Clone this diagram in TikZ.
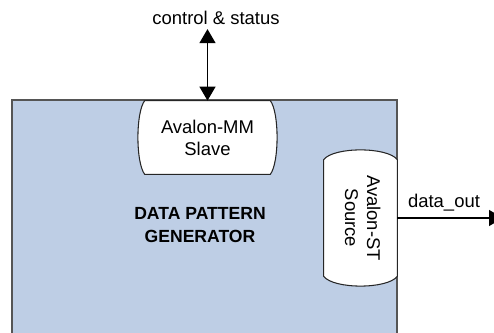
\documentclass[tikz,border=0pt]{standalone}
\usepackage{fontspec}
\setmainfont{Liberation Sans}
\usepackage{graphicx}
\usetikzlibrary{arrows.meta, backgrounds}

\definecolor{genblue}{RGB}{190,206,229}
\definecolor{edgegray}{RGB}{85,85,85}

\tikzset{
  port/.style={inner sep=0pt, align=center, font=\fontsize{10.5}{12.6}\selectfont},
  portline/.style={draw=black!85, fill=white, line width=0.6pt},
  sig/.style={line width=0.7pt, -{Triangle[length=0.28cm,width=0.32cm]}},
}

\begin{document}
\begin{tikzpicture}[x=0.02cm, y=-0.02cm]
    \useasboundingbox (0,0) rectangle (494,333);
    \clip (0,0) rectangle (494,333);

    % Generator block, runs past the lower edge
    \begin{scope}[on background layer]
      \draw[draw=edgegray, fill=genblue, line width=0.7pt] (12,100) rectangle (397,350);
    \end{scope}
    \node[port, font=\bfseries\fontsize{10}{13}\selectfont] (genlbl) at (200,225) {DATA PATTERN\\GENERATOR};

    % Ports
    \node[port, minimum width=2.5cm, minimum height=1.46cm] (mm) at (207.5,137.5) {Avalon-MM\\Slave};
    \node[port, minimum width=1.46cm, minimum height=2.32cm] (st) at (360.5,218)
      {\rotatebox{-90}{\begin{tabular}{@{}c@{}}Avalon-ST\\Source\end{tabular}}};

    \begin{scope}[on background layer]
      \draw[portline] (mm.north west) -- (mm.north east)
        .. controls +(9,12) and +(9,-12) .. (mm.south east)
        -- (mm.south west)
        .. controls +(-9,-12) and +(-9,12) .. (mm.north west) -- cycle;
      \draw[portline] (st.south west) -- (st.north west)
        .. controls +(10,-13) and +(-10,-13) .. (st.north east)
        -- (st.south east)
        .. controls +(-10,13) and +(10,13) .. (st.south west) -- cycle;
    \end{scope}

    % Interfaces
    \node[port] (ctl) at (216,18) {control \& status};
    \draw[sig, {Triangle[length=0.28cm,width=0.32cm]}-{Triangle[length=0.28cm,width=0.32cm]}, shorten <=0.08cm]
      (ctl.south -| mm.north) -- (mm.north);

    % tip runs off the right edge
    \coordinate (out) at (503,218);
    \draw[sig] (st.east) -- (out);
    \node[port] (outlbl) at (444,203) {data\_out};
\end{tikzpicture}
\end{document}
